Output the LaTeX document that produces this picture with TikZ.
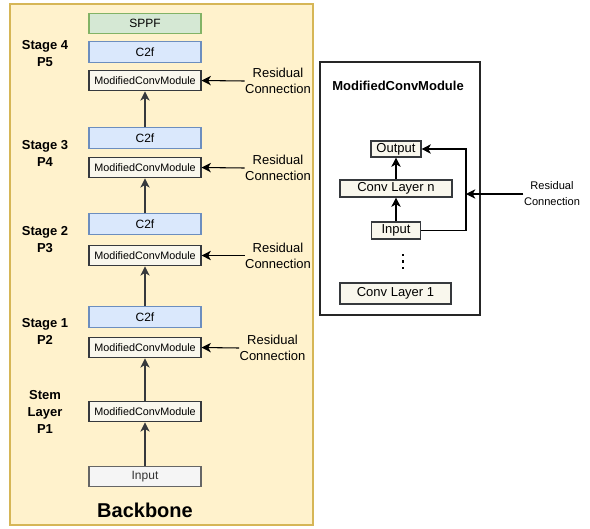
\documentclass[tikz,border=0pt]{standalone}
\usepackage{fontspec}
\setmainfont{Liberation Sans}
\usetikzlibrary{arrows.meta}
\definecolor{bbfill}{HTML}{FFF2CC}
\definecolor{bbline}{HTML}{D6B656}
\definecolor{c2ffill}{HTML}{DAE8FC}
\definecolor{c2fline}{HTML}{6C8EBF}
\definecolor{sppffill}{HTML}{D5E8D4}
\definecolor{sppfline}{HTML}{82B366}
\definecolor{modfill}{HTML}{F9F7ED}
\definecolor{modline}{HTML}{36393D}
\definecolor{infill}{HTML}{F5F5F5}
\definecolor{inline}{HTML}{666666}
\definecolor{intext}{HTML}{333333}

\begin{document}
\begin{tikzpicture}[x=0.75pt,y=-0.75pt,line width=0.8pt,>={Stealth[length=7pt,width=7pt,inset=2pt]}]
\tikzstyle{every node}+=[inner sep=0pt]
\tikzstyle{block}=[draw, minimum width=84pt, minimum height=15.4pt, font=\fontsize{9}{11}\selectfont]
\tikzstyle{modblock}=[block, fill=modfill, draw=modline, font=\fontsize{8.1}{10}\selectfont]
\tikzstyle{c2fblock}=[block, fill=c2ffill, draw=c2fline]
\tikzstyle{stagelabel}=[align=center, font=\fontsize{9.75}{12.75}\selectfont\bfseries]
\tikzstyle{reslabel}=[align=center, font=\fontsize{9.75}{12}\selectfont]
\tikzstyle{layer}=[draw=modline, fill=modfill, font=\fontsize{9.75}{11}\selectfont]
\useasboundingbox (0,0) rectangle (590,529);
\draw [draw=bbline, fill=bbfill] (10,4) rectangle (313,525);
\node [block, fill=sppffill, draw=sppfline] (sppf) at (145,23.5) {SPPF};
\node [c2fblock] (c2ffour) at (145,52) {C2f};
\node [modblock] (modfour) at (145,80.5) {ModifiedConvModule};
\node [c2fblock] (c2fthree) at (145,138) {C2f};
\node [modblock] (modthree) at (145,167.5) {ModifiedConvModule};
\node [c2fblock] (c2ftwo) at (145,224) {C2f};
\node [modblock] (modtwo) at (145,255.5) {ModifiedConvModule};
\node [c2fblock] (c2fone) at (145,317) {C2f};
\node [modblock] (modone) at (145,347.5) {ModifiedConvModule};
\node [modblock] (modstem) at (145,411.5) {ModifiedConvModule};
\node [block, fill=infill, draw=inline, text=intext] (input) at (145,476.5) {Input};
\node [font=\fontsize{15}{18}\selectfont\bfseries] (backbone) at (145,510) {Backbone};
\draw [modline, ->] (c2fthree.north) -- (modfour.south);
\draw [modline, ->] (c2ftwo.north) -- (modthree.south);
\draw [modline, ->] (c2fone.north) -- (modtwo.south);
\draw [modline, ->] (modstem.north) -- (modone.south);
\draw [modline, ->] (input.north) -- (modstem.south);
\node [stagelabel] (stagefour) at (45,53.5) {Stage 4\\P5};
\node [stagelabel] (stagethree) at (45,153.5) {Stage 3\\P4};
\node [stagelabel] (stagetwo) at (45,240) {Stage 2\\P3};
\node [stagelabel] (stageone) at (45,331.5) {Stage 1\\P2};
\node [stagelabel] (stem) at (45,412) {Stem\\Layer\\P1};
\node [reslabel] (resfour) at (278,81) {Residual\\Connection};
\node [reslabel] (resthree) at (278,168) {Residual\\Connection};
\node [reslabel] (restwo) at (278,255.5) {Residual\\Connection};
\node [reslabel] (resone) at (272.5,348) {Residual\\Connection};
\draw [black, ->] (resfour.west) -- (modfour.east);
\draw [black, ->] (resthree.west) -- (modthree.east);
\draw [black, ->] (restwo.west) -- (modtwo.east);
\draw [black, ->] (resone.west) -- (modone.east);
\draw [draw=black!85, fill=white] (320,62) rectangle (480,315);
\node [font=\fontsize{9.75}{12}\selectfont\bfseries] (title) at (398,86) {ModifiedConvModule};
\node [layer, minimum width=37.5pt, minimum height=12pt] (out) at (396,149) {Output};
\node [layer, minimum width=84pt, minimum height=12.75pt] (convn) at (396,188.5) {Conv Layer n};
\node [layer, minimum width=36.75pt, minimum height=12.75pt] (inp) at (396,230.5) {Input};
\node [layer, minimum width=83.25pt, minimum height=15.75pt] (convone) at (395.5,293.5) {Conv Layer 1};
\foreach \dy in {255,261.5,268}
  \fill [black] (401.5,\dy-1.3) rectangle (404,\dy+1.3);
\draw [black, ->] (convn.north) -- (out.south);
\draw [black, ->] (inp.north) -- (convn.south);
\coordinate (loop) at (466,194);
\draw [black, ->] (inp.east) -| (loop) |- (out.east);
\node [align=center, font=\fontsize{8.3}{12}\selectfont] (resright) at (552,194) {Residual\\Connection};
\draw [black, ->] (resright.west) -- (loop);
\end{tikzpicture}
\end{document}
